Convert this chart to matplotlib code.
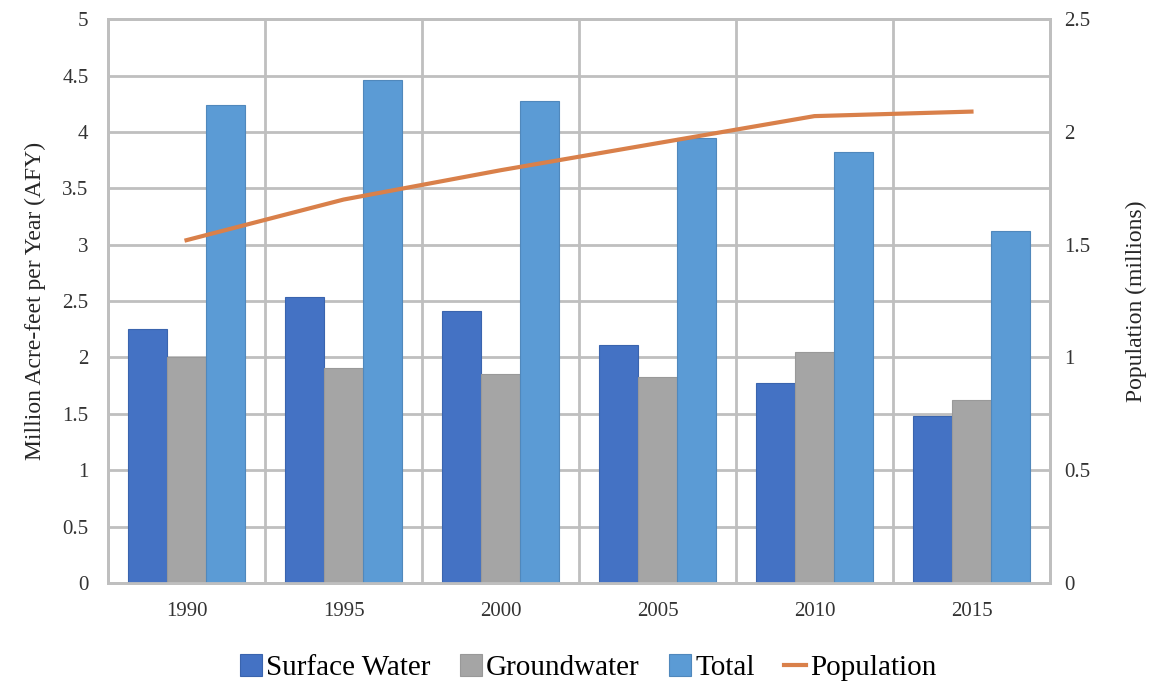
import matplotlib.pyplot as plt
import numpy as np

years = ['1990', '1995', '2000', '2005', '2010', '2015']
surface_water = [2.25, 2.54, 2.41, 2.11, 1.77, 1.48]
groundwater = [2.00, 1.91, 1.85, 1.83, 2.05, 1.62]
total = [4.24, 4.46, 4.27, 3.95, 3.82, 3.12]
population = [1.52, 1.70, 1.83, 1.95, 2.07, 2.09]

plt.rcParams['font.family'] = ['Liberation Serif', 'DejaVu Serif']
grid_color = '#BFBFBF'

fig = plt.figure(figsize=(11.58, 6.83), dpi=100)
ax = fig.add_axes([0.0933, 0.1464, 0.8134, 0.8256])
ax2 = ax.twinx()

x = np.arange(len(years))
w = 0.25
ax.bar(x - w, surface_water, w, color='#4472C4', edgecolor='#3A64AE', linewidth=0.8,
       label='Surface Water', zorder=3)
ax.bar(x, groundwater, w, color='#A5A5A5', edgecolor='#999999', linewidth=0.8,
       label='Groundwater', zorder=3)
ax.bar(x + w, total, w, color='#5B9BD5', edgecolor='#5088BC', linewidth=0.8,
       label='Total', zorder=3)
ax2.plot(x, population, color='#D9804A', linewidth=3, label='Population', zorder=4)

ax.set_xlim(-0.5, len(years) - 0.5)
ax.set_ylim(0, 5)
ax2.set_ylim(0, 2.5)
ax.set_yticks(np.arange(0, 5.01, 0.5))
ax.set_yticklabels(['0', '0.5', '1', '1.5', '2', '2.5', '3', '3.5', '4', '4.5', '5'])
ax2.set_yticks(np.arange(0, 2.51, 0.5))
ax2.set_yticklabels(['0', '0.5', '1', '1.5', '2', '2.5'])
ax.set_xticks(x)
ax.set_xticklabels(years)

# vertical grid lines between categories
ax.set_xticks(np.arange(-0.5, len(years)), minor=True)
ax.grid(True, which='minor', axis='x', color=grid_color, linewidth=2, zorder=0)
ax.grid(True, which='major', axis='y', color=grid_color, linewidth=2, zorder=0)
ax.set_axisbelow(True)

for a in (ax, ax2):
    for s in a.spines.values():
        s.set_color(grid_color)
        s.set_linewidth(2)
    a.tick_params(length=0, labelsize=15, colors='#333333', pad=10)
ax.tick_params(axis='x', which='both', length=0, pad=14)
ax.tick_params(axis='y', pad=14)
ax2.tick_params(axis='y', pad=10)

ax.set_ylabel('Million Acre-feet per Year (AFY)', fontsize=17, color='#262626', labelpad=12)
ax2.set_ylabel('Population (millions)', fontsize=17, color='#262626', labelpad=26)

h1, l1 = ax.get_legend_handles_labels()
h2, l2 = ax2.get_legend_handles_labels()
fig.legend(h1 + h2, l1 + l2, loc='lower center', bbox_to_anchor=(0.508, -0.036), ncol=4,
           frameon=False, fontsize=21, handlelength=0.75, handleheight=0.75,
           handletextpad=0.15, columnspacing=1.0)

fig.savefig('out.png', dpi=100)
